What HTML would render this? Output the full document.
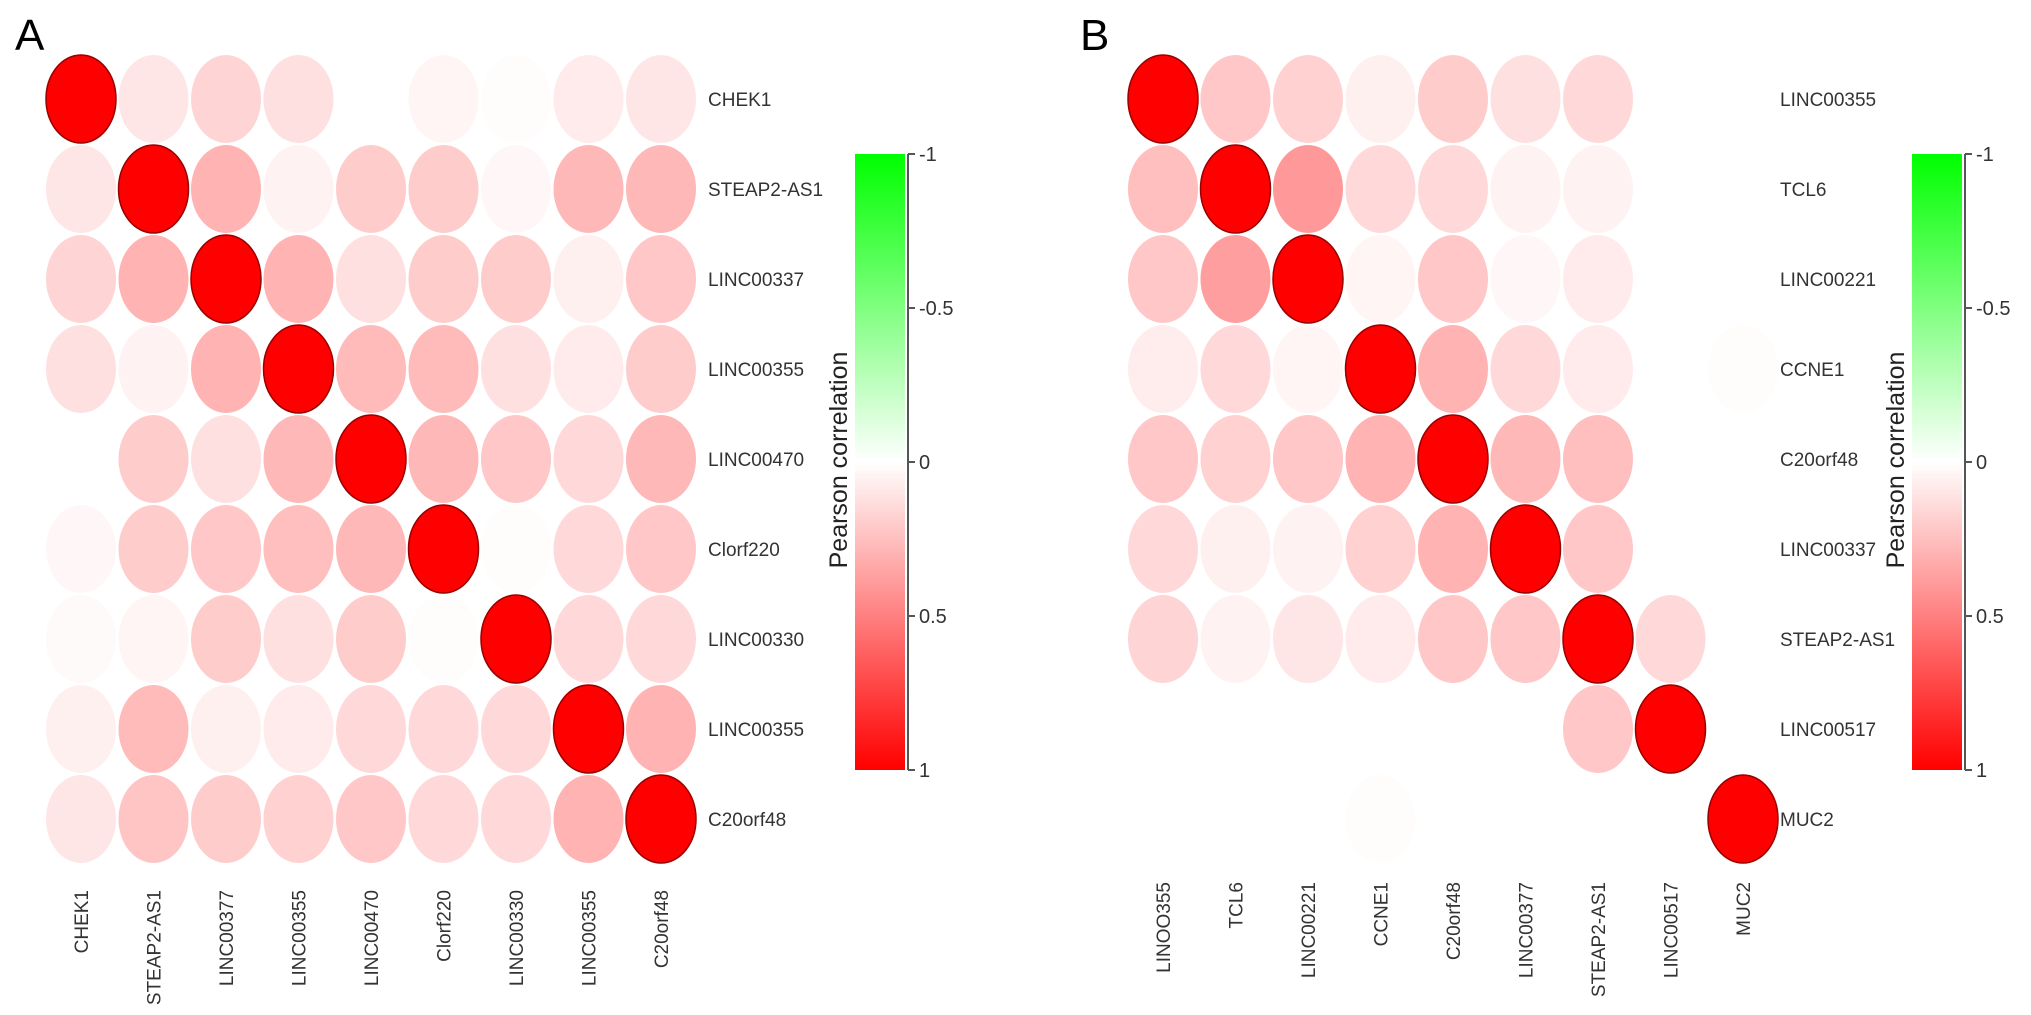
<!DOCTYPE html>
<html><head><meta charset="utf-8"><style>
html,body{margin:0;padding:0;background:#fff;}
svg{display:block;font-family:"Liberation Sans",sans-serif;}
.lab{font-size:19px;fill:#333;}
.tick{font-size:20px;fill:#333;}
</style></head><body>
<svg id="chart" width="2031" height="1015" viewBox="0 0 2031 1015">
<defs>
<linearGradient id="cb" x1="0" y1="0" x2="0" y2="1">
<stop offset="0" stop-color="#00ff00"/><stop offset="0.5" stop-color="#ffffff"/><stop offset="1" stop-color="#ff0000"/>
</linearGradient>
</defs>
</svg>
<script>
const rowsA = ["CHEK1","STEAP2-AS1","LINC00337","LINC00355","LINC00470","Clorf220","LINC00330","LINC00355","C20orf48"];
const colsA = ["CHEK1","STEAP2-AS1","LINC00377","LINC00355","LINC00470","Clorf220","LINC00330","LINC00355","C20orf48"];
const valuesA = [
[1,0.1,0.17,0.12,0,0.04,0.01,0.08,0.1],
[0.1,1,0.3,0.05,0.2,0.2,0.03,0.28,0.28],
[0.17,0.3,1,0.3,0.12,0.2,0.2,0.06,0.22],
[0.12,0.05,0.3,1,0.27,0.27,0.12,0.08,0.2],
[0,0.2,0.12,0.28,1,0.28,0.22,0.15,0.28],
[0.03,0.2,0.22,0.25,0.28,1,0.01,0.15,0.22],
[0.02,0.04,0.2,0.12,0.2,0.01,1,0.15,0.15],
[0.06,0.27,0.06,0.08,0.15,0.15,0.15,1,0.3],
[0.1,0.23,0.2,0.18,0.22,0.15,0.15,0.3,1]];
const rowsB = ["LINC00355","TCL6","LINC00221","CCNE1","C20orf48","LINC00337","STEAP2-AS1","LINC00517","MUC2"];
const colsB = ["LINOO355","TCL6","LINC00221","CCNE1","C20orf48","LINC00377","STEAP2-AS1","LINC00517","MUC2"];
const valuesB = [
[1,0.22,0.18,0.06,0.2,0.12,0.15,0,0],
[0.25,1,0.4,0.15,0.15,0.05,0.05,0,0],
[0.22,0.38,1,0.04,0.22,0.03,0.08,0,0],
[0.07,0.15,0.04,1,0.3,0.15,0.08,0,0.01],
[0.22,0.18,0.22,0.3,1,0.28,0.25,0,0],
[0.15,0.06,0.05,0.18,0.3,1,0.22,0,0],
[0.17,0.05,0.1,0.08,0.22,0.22,1,0.15,0],
[0,0,0,0,0,0,0.22,1,0],
[0,0,0,0.01,0,0,0,0,1]];
const tickValues = [-1,-0.5,0,0.5,1];
const tickLabels = ["-1","-0.5","0","0.5","1"];

const NS="http://www.w3.org/2000/svg";
const svg=document.getElementById('chart');
function mk(tag,attrs,parent){const e=document.createElementNS(NS,tag);for(const k in attrs)e.setAttribute(k,attrs[k]);(parent||svg).appendChild(e);return e;}
function color(v){
  if(v>=0){const g=Math.round(255*(1-v));return `rgb(255,${g},${g})`;}
  const r=Math.round(255*(1+v));return `rgb(${r},255,${r})`;
}
function panel(cfg){
  const g=mk('g',{});
  
  
  const xs=i=>cfg.x0+i*72.5, ys=j=>cfg.y0+j*90;
  const L=mk('text',{x:cfg.letterX,y:50,'font-size':'44',fill:'#000'},g);
  L.textContent=cfg.letter;
  
  
  cfg.values.forEach((row,j)=>row.forEach((v,i)=>{
    const e=mk('ellipse',{cx:xs(i),cy:ys(j),rx:35,ry:44,fill:color(v)},g);
    if(v>=0.99){e.setAttribute('stroke','#9a0000');e.setAttribute('stroke-width','1.5');}
    
    
  }));
  cfg.rows.forEach((r,j)=>{
    const t=mk('text',{x:cfg.labelX,y:ys(j)+7,class:'lab'},g);
    t.textContent=r;
    
    
  });
  cfg.cols.forEach((c,i)=>{
    const t=mk('text',{x:0,y:0,class:'lab','text-anchor':'end',transform:`translate(${xs(i)+7},${cfg.colY}) rotate(-90)`},g);
    t.textContent=c;
    
    
  });
  const top=154,bot=770,bx=cfg.barX;
  const sc=v=>top+(v+1)/2*(bot-top);
  const bar=mk('rect',{x:bx,y:top,width:50,height:bot-top,fill:'url(#cb)'},g);
  
  
  mk('line',{x1:bx+53,y1:top,x2:bx+53,y2:bot,stroke:'#555','stroke-width':2},g);
  tickValues.forEach((v,k)=>{
    mk('line',{x1:bx+53,y1:sc(v),x2:bx+60,y2:sc(v),stroke:'#555','stroke-width':2},g);
    const t=mk('text',{x:bx+64,y:sc(v)+7,class:'tick'},g);
    t.textContent=tickLabels[k];
    
    
  });
  const tt=mk('text',{x:0,y:0,'font-size':'25','fill':'#222','text-anchor':'middle',transform:`translate(${cfg.titleX},460) rotate(-90)`},g);
  tt.textContent='Pearson correlation';
  
  
}
panel({name:'panel-a',letter:'A',letterX:15,x0:81,y0:99,rows:rowsA,cols:colsA,values:valuesA,labelX:708,colY:890,barX:855,titleX:847});
panel({name:'panel-b',letter:'B',letterX:1080,x0:1163,y0:99,rows:rowsB,cols:colsB,values:valuesB,labelX:1780,colY:882,barX:1912,titleX:1904});
</script>
</body></html>
